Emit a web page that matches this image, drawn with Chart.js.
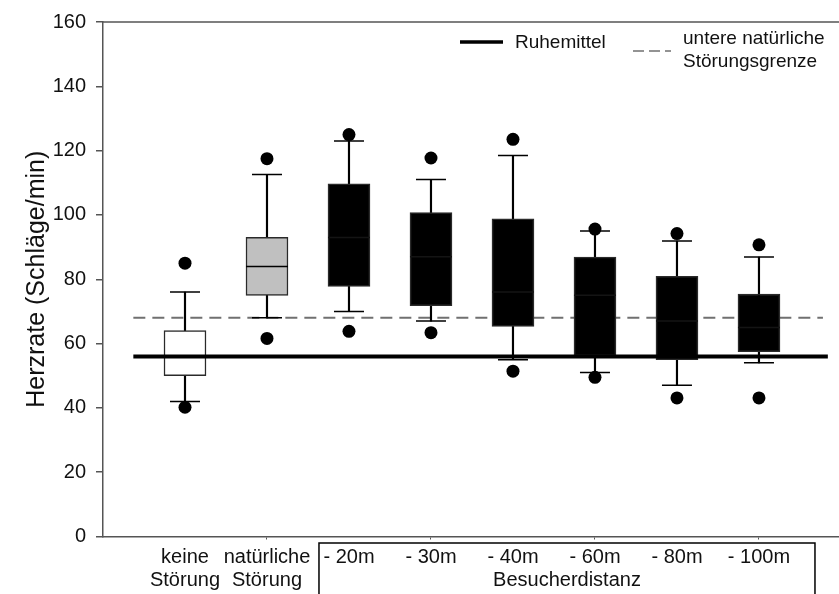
<!DOCTYPE html>
<html>
<head>
<meta charset="utf-8">
<script src="https://cdn.jsdelivr.net/npm/chart.js@4.4.1/dist/chart.umd.min.js"></script>
<style>
  html, body { margin: 0; padding: 0; background: #fff; }
  #wrap { width: 839px; height: 594px; }
</style>
</head>
<body>
<div id="wrap"><canvas id="boxChart" width="839" height="594"></canvas></div>
<script>
// Herzrate je Störungsstufe (Schläge/min)
const categories = [['keine', 'Störung'], ['natürliche', 'Störung'], '- 20m', '- 30m', '- 40m', '- 60m', '- 80m', '- 100m'];
const whiskerLow   = [42, 68, 70, 67, 55, 51, 47, 54];
const boxLow       = [50, 75, 77.8, 71.8, 65.3, 56.2, 55, 57.5];
const medians      = [56, 84, 93, 87, 76, 75, 67, 65];
const boxHigh      = [64, 93, 109.7, 100.7, 98.8, 86.9, 80.9, 75.4];
const whiskerHigh  = [76, 112.6, 123, 111, 118.5, 95, 91.9, 86.9];
const outlierLow   = [40.2, 61.6, 63.8, 63.4, 51.4, 49.5, 43.1, 43.1];
const outlierHigh  = [85, 117.5, 125, 117.7, 123.5, 95.6, 94.2, 90.7];
const boxColors    = ['#ffffff', '#c0c0c0', '#000000', '#000000', '#000000', '#000000', '#000000', '#000000'];
const yTicks       = [0, 20, 40, 60, 80, 100, 120, 140, 160];
const restMean     = 56;   // Ruhemittel
const lowerLimit   = 68;   // untere natürliche Störungsgrenze

const FONT = "'Liberation Sans', Arial, sans-serif";
const TEXT = '#111';
const AXIS = '#555';

const pos = (i) => i + 1;
const points = (arr) => arr.map((v, i) => ({ x: pos(i), y: v }));

// Rahmenlinie oben, Legende und Klammer "Besucherdistanz"
const extras = {
    id: 'extras',
    afterDraw(chart) {
        const { ctx, chartArea, scales } = chart;
        ctx.save();
        ctx.strokeStyle = AXIS;
        ctx.lineWidth = 1.5;
        ctx.beginPath();
        ctx.moveTo(chartArea.left, chartArea.top);
        ctx.lineTo(chartArea.right, chartArea.top);
        ctx.stroke();

        // Legende
        ctx.strokeStyle = '#000';
        ctx.lineWidth = 3.5;
        ctx.beginPath();
        ctx.moveTo(460, 42);
        ctx.lineTo(503, 42);
        ctx.stroke();
        ctx.strokeStyle = '#707070';
        ctx.lineWidth = 1.5;
        ctx.setLineDash([11, 5]);
        ctx.beginPath();
        ctx.moveTo(633, 51);
        ctx.lineTo(671, 51);
        ctx.stroke();
        ctx.setLineDash([]);

        ctx.fillStyle = TEXT;
        ctx.font = '19px ' + FONT;
        ctx.textBaseline = 'middle';
        ctx.textAlign = 'left';
        ctx.fillText('Ruhemittel', 515, 43);
        ctx.fillText('untere natürliche', 683, 39);
        ctx.fillText('Störungsgrenze', 683, 62);

        // Klammer um die Besucherdistanzen
        const x0 = scales.x.getPixelForValue(2.634);
        const x1 = scales.x.getPixelForValue(8.683);
        ctx.strokeStyle = '#000';
        ctx.lineWidth = 1.5;
        ctx.beginPath();
        ctx.moveTo(x0, chart.height);
        ctx.lineTo(x0, 543);
        ctx.lineTo(x1, 543);
        ctx.lineTo(x1, chart.height);
        ctx.stroke();
        ctx.font = '20px ' + FONT;
        ctx.textAlign = 'center';
        ctx.fillText('Besucherdistanz', (x0 + x1) / 2, 580);
        ctx.restore();
    }
};

function initChart() {
    const ctx = document.getElementById('boxChart').getContext('2d');
    return new Chart(ctx, {
        type: 'bar',
        data: {
            datasets: [
                {
                    type: 'scatter',
                    label: 'Ausreißer',
                    data: points(outlierLow).concat(points(outlierHigh)),
                    pointRadius: 6.5,
                    pointBackgroundColor: '#000',
                    pointBorderWidth: 0,
                    order: 0
                },
                {
                    type: 'line',
                    label: 'Ruhemittel',
                    data: [{ x: 0.37, y: restMean }, { x: 8.84, y: restMean }],
                    borderColor: '#000',
                    borderWidth: 4,
                    pointRadius: 0,
                    order: 1
                },
                {
                    type: 'scatter',
                    label: 'Median',
                    data: points(medians),
                    pointStyle: 'line',
                    pointRadius: 21,
                    pointBorderWidth: 1.5,
                    pointBorderColor: boxColors.map(c => c === '#000000' ? '#141414' : '#000'),
                    order: 2
                },
                {
                    type: 'scatter',
                    label: 'Whisker-Enden',
                    data: points(whiskerLow).concat(points(whiskerHigh)),
                    pointStyle: 'line',
                    pointRadius: 15,
                    pointBorderWidth: 1.5,
                    pointBorderColor: '#000',
                    order: 3
                },
                {
                    label: 'Quartile',
                    data: boxLow.map((v, i) => ({ x: pos(i), y: [v, boxHigh[i]] })),
                    backgroundColor: boxColors,
                    borderColor: '#2a2a2a',
                    borderWidth: 1.5,
                    borderSkipped: false,
                    barThickness: 42,
                    grouped: false,
                    order: 4
                },
                {
                    label: 'Whisker',
                    data: whiskerLow.map((v, i) => ({ x: pos(i), y: [v, whiskerHigh[i]] })),
                    backgroundColor: '#000',
                    borderWidth: 0,
                    barThickness: 1.5,
                    grouped: false,
                    order: 5
                },
                {
                    type: 'line',
                    label: 'untere natürliche Störungsgrenze',
                    data: [{ x: 0.37, y: lowerLimit }, { x: 8.78, y: lowerLimit }],
                    borderColor: '#707070',
                    borderWidth: 2,
                    borderDash: [12, 7],
                    pointRadius: 0,
                    order: 6
                }
            ]
        },
        options: {
            responsive: false,
            animation: false,
            events: [],
            layout: {
                autoPadding: false,
                padding: { top: 20, right: 0, left: 0, bottom: 0 }
            },
            plugins: {
                legend: { display: false },
                tooltip: { enabled: false }
            },
            scales: {
                x: {
                    type: 'linear',
                    min: 0,
                    max: 8.976,
                    offset: false,
                    afterBuildTicks: (s) => { s.ticks = categories.map((_, i) => ({ value: pos(i) })); },
                    afterFit: (s) => {
                        s.height = 57.5;
                        s.paddingLeft = 0;
                        s.paddingRight = 0;
                    },
                    ticks: {
                        callback: (v) => categories[v - 1],
                        autoSkip: false,
                        maxRotation: 0,
                        padding: 6,
                        color: TEXT,
                        font: { family: FONT, size: 20, lineHeight: 1.15 }
                    },
                    grid: {
                        offset: false,
                        drawOnChartArea: false,
                        tickLength: 3,
                        color: (c) => (c.tick && c.tick.value % 2 === 0) ? AXIS : 'rgba(0,0,0,0)'
                    },
                    border: { color: AXIS, width: 1.5 }
                },
                y: {
                    min: 0,
                    max: 160,
                    afterBuildTicks: (s) => { s.ticks = yTicks.map(v => ({ value: v })); },
                    afterFit: (s) => { s.width = 103; },
                    ticks: {
                        padding: 10,
                        color: TEXT,
                        font: { family: FONT, size: 20 }
                    },
                    grid: {
                        drawOnChartArea: false,
                        tickLength: 7,
                        color: AXIS,
                        lineWidth: 1.5
                    },
                    border: { color: AXIS, width: 1.5 },
                    title: {
                        display: true,
                        text: 'Herzrate (Schläge/min)',
                        color: TEXT,
                        font: { family: FONT, size: 25 },
                        padding: { top: 22, bottom: 0 }
                    }
                }
            }
        },
        plugins: [extras]
    });
}

window.onload = function() {
    initChart();
};
</script>
</body>
</html>
